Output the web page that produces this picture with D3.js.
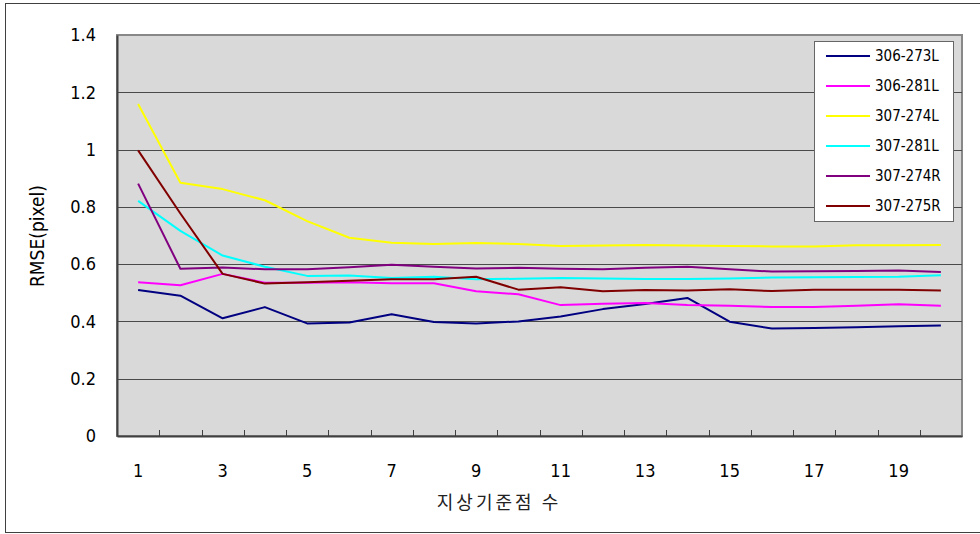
<!DOCTYPE html>
<html>
<head>
<meta charset="utf-8">
<script src="https://cdn.jsdelivr.net/npm/d3@7"></script>
<style>
  body { margin: 0; background: #fff; }
  svg text { font-family: "DejaVu Sans Condensed", "DejaVu Sans", sans-serif; fill: #000; }
</style>
</head>
<body>
<div id="chart"></div>
<script>
// RMSE by number of ground control points
var categories = d3.range(1, 21);
var tickLabels = [1, 3, 5, 7, 9, 11, 13, 15, 17, 19];
var yTicks = [0, 0.2, 0.4, 0.6, 0.8, 1, 1.2, 1.4];

var seriesNames = ["306-273L", "306-281L", "307-274L", "307-281L", "307-274R", "307-275R"];
var seriesColors = ["#000080", "#ff00ff", "#ffff00", "#00ffff", "#800080", "#800000"];

var s306_273L = [0.51, 0.49, 0.411, 0.45, 0.393, 0.396, 0.425, 0.398, 0.393, 0.40,
                 0.417, 0.443, 0.461, 0.482, 0.399, 0.375, 0.377, 0.38, 0.383, 0.386];
var s306_281L = [0.537, 0.526, 0.566, 0.535, 0.535, 0.537, 0.533, 0.533, 0.505, 0.495,
                 0.457, 0.462, 0.464, 0.457, 0.455, 0.45, 0.45, 0.455, 0.46, 0.455];
var s307_274L = [1.159, 0.884, 0.862, 0.823, 0.75, 0.692, 0.675, 0.67, 0.674, 0.67,
                 0.663, 0.665, 0.667, 0.665, 0.663, 0.662, 0.662, 0.666, 0.666, 0.667];
var s307_281L = [0.821, 0.716, 0.63, 0.591, 0.559, 0.56, 0.552, 0.556, 0.547, 0.549,
                 0.552, 0.55, 0.548, 0.548, 0.55, 0.553, 0.554, 0.555, 0.556, 0.561];
var s307_274R = [0.881, 0.584, 0.588, 0.582, 0.582, 0.589, 0.598, 0.591, 0.585, 0.587,
                 0.584, 0.582, 0.587, 0.591, 0.582, 0.574, 0.575, 0.576, 0.578, 0.573];
var s307_275R = [0.997, 0.777, 0.566, 0.532, 0.537, 0.542, 0.547, 0.547, 0.556, 0.511,
                 0.519, 0.505, 0.51, 0.508, 0.512, 0.506, 0.511, 0.511, 0.511, 0.508];

var seriesValues = [s306_273L, s306_281L, s307_274L, s307_281L, s307_274R, s307_275R];

var width = 980, height = 534;
var plot = {left: 117, right: 962, top: 35, bottom: 436};

var svg = d3.select("#chart").append("svg")
    .attr("width", width)
    .attr("height", height);

// chart frame
svg.append("rect")
    .attr("x", 5.5).attr("y", 3.5)
    .attr("width", 980).attr("height", 529)
    .attr("fill", "#fff")
    .attr("stroke", "#404040");

var x = d3.scaleBand()
    .domain(categories)
    .range([plot.left, plot.right]);

var y = d3.scaleLinear()
    .domain([0, 1.4])
    .range([plot.bottom, plot.top]);

// plot background
svg.append("rect")
    .attr("x", plot.left).attr("y", plot.top)
    .attr("width", plot.right - plot.left)
    .attr("height", plot.bottom - plot.top)
    .attr("fill", "#d9d9d9")
    .attr("stroke", "#888")
    .attr("stroke-width", 2);

// gridlines
svg.append("g")
  .selectAll("line")
  .data(yTicks.slice(1, -1))
  .enter().append("line")
    .attr("x1", plot.left).attr("x2", plot.right)
    .attr("y1", function(d) { return Math.round(y(d)) + 0.5; })
    .attr("y2", function(d) { return Math.round(y(d)) + 0.5; })
    .attr("stroke", "#4a4a4a")
    .attr("stroke-width", 1);

// y axis
var yAxis = svg.append("g")
    .attr("transform", "translate(" + plot.left + ",0)")
    .call(d3.axisLeft(y).tickValues(yTicks).tickSize(0).tickPadding(21)
          .tickFormat(function(d) { return d3.format("")(+d.toFixed(1)); }));
yAxis.select(".domain").attr("stroke", "#404040").attr("stroke-width", 2);
yAxis.selectAll("text").style("font-size", "18px");

// x axis: ticks on band boundaries, labels on odd categories
var xAxis = svg.append("g")
    .attr("transform", "translate(0," + plot.bottom + ")")
    .call(d3.axisBottom(x).tickValues(tickLabels).tickSize(0).tickPadding(28));
xAxis.select(".domain").attr("stroke", "#404040").attr("stroke-width", 2);
xAxis.selectAll("text").style("font-size", "18px");

svg.append("g")
  .selectAll("line")
  .data(categories.slice(1))
  .enter().append("line")
    .attr("x1", function(d) { return Math.round(x(d)) + 0.5; })
    .attr("x2", function(d) { return Math.round(x(d)) + 0.5; })
    .attr("y1", plot.bottom - 6).attr("y2", plot.bottom)
    .attr("stroke", "#404040");

// axis titles
svg.append("text")
    .attr("transform", "translate(44,236) rotate(-90)")
    .attr("text-anchor", "middle")
    .style("font-size", "19px")
    .text("RMSE(pixel)");

svg.append("text")
    .attr("x", 499).attr("y", 509)
    .attr("text-anchor", "middle")
    .style("font-family", "'Noto Sans CJK KR', sans-serif")
    .style("font-size", "18px")
    .style("letter-spacing", "3px")
    .style("fill", "#222")
    .text("지상기준점 수");

// series lines
var line = d3.line()
    .x(function(d, i) { return x(categories[i]) + x.bandwidth() / 2; })
    .y(function(d) { return y(d); });

svg.append("g")
  .selectAll("path")
  .data(seriesValues)
  .enter().append("path")
    .attr("d", line)
    .attr("fill", "none")
    .attr("stroke", function(d, i) { return seriesColors[i]; })
    .attr("stroke-width", 2)
    .attr("stroke-linejoin", "round");

// legend
var legend = svg.append("g").attr("transform", "translate(814,41)");
legend.append("rect")
    .attr("x", 0.5).attr("y", 0.5)
    .attr("width", 139).attr("height", 180)
    .attr("fill", "#fff")
    .attr("stroke", "#666");

var item = legend.selectAll(".item")
    .data(seriesNames)
  .enter().append("g")
    .attr("class", "item")
    .attr("transform", function(d, i) { return "translate(0," + (15 + i * 30) + ")"; });

item.append("line")
    .attr("x1", 12).attr("x2", 56)
    .attr("y1", 0).attr("y2", 0)
    .attr("stroke", function(d, i) { return seriesColors[i]; })
    .attr("stroke-width", 2);

item.append("text")
    .attr("x", 61).attr("y", 0)
    .attr("dy", "0.35em")
    .style("font-size", "15px")
    .text(function(d) { return d; });
</script>
</body>
</html>
